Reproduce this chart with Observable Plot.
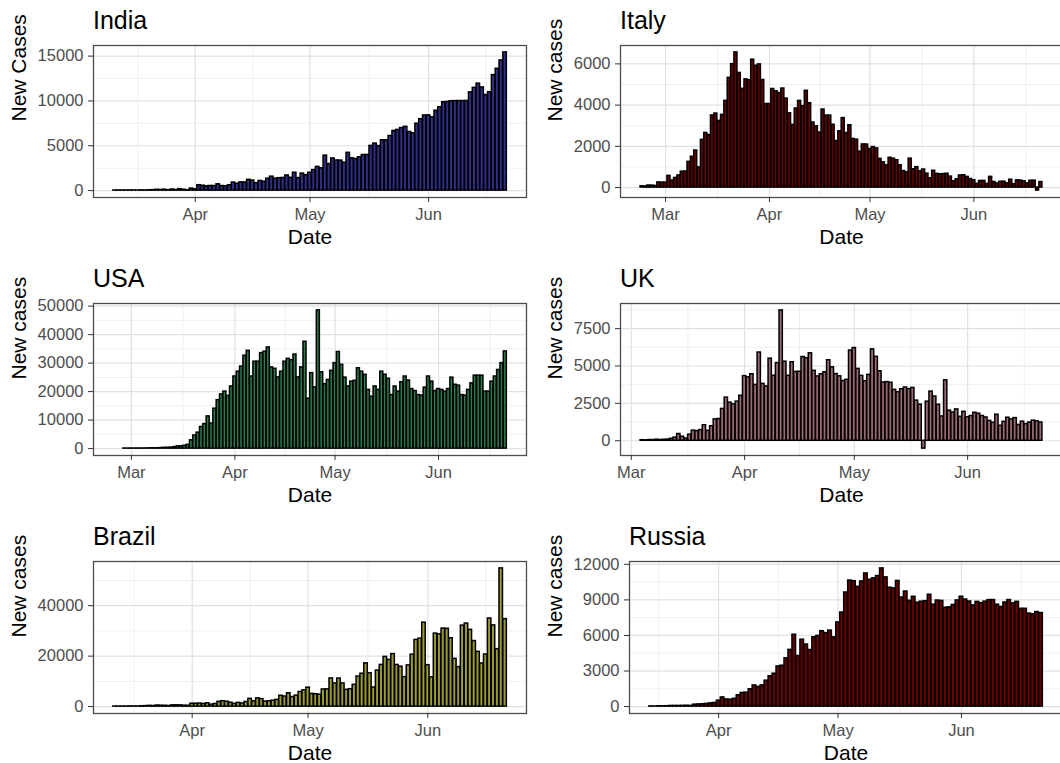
<!DOCTYPE html>
<html>
<head>
<meta charset="utf-8">
<script src="https://cdn.jsdelivr.net/npm/d3@7"></script>
<script src="https://cdn.jsdelivr.net/npm/@observablehq/plot@0.6"></script>
<style>
  html, body { margin: 0; padding: 0; background: #fff; overflow: hidden; }
  #fig { position: relative; width: 1060px; height: 763px; overflow: hidden; background: #fff;
         font-family: "Liberation Sans", Arial, Helvetica, sans-serif; }
  .cell { position: absolute; width: 530px; height: 258px; }
  .title { position: absolute; font-size: 25px; line-height: 25px; color: #000; white-space: nowrap; }
  .cell svg { position: absolute; left: 0; }
</style>
</head>
<body>
<div id="fig"></div>
<script>
// ---------------- data (daily new cases, 2020) ----------------
const monthBreaks = ["2020-03-01", "2020-04-01", "2020-05-01", "2020-06-01"];

// India (Mar 11 - Jun 21)
const indiaStart = "2020-03-11";
const indiaMar = [7, 12, 11, 9, 20, 11, 6, 23, 14, 38, 50, 86, 66, 103, 37, 121, 70, 160, 100, 37, 227];
const indiaApr = [146, 601, 545, 478, 515, 506, 704, 508, 485, 591, 896, 768, 918, 905, 1200, 1118, 826, 1076, 991, 1334, 1553, 1336, 1383, 1409, 1684, 1429, 1990, 1396, 1897, 1718];
const indiaMay = [1993, 2293, 2644, 2487, 3900, 2963, 3587, 3364, 3344, 3113, 4213, 3604, 3525, 3722, 3967, 3970, 4987, 5242, 4970, 5611, 5609, 6088, 6654, 6767, 6977, 7113, 6535, 6387, 7466, 7964, 8380];
const indiaJun = [8392, 8171, 8909, 9304, 9851, 9887, 9971, 9983, 9987, 9985, 9996, 10956, 11458, 11929, 11502, 10667, 10974, 12881, 13586, 14516, 15413];
const indiaTicks = [0, 5000, 10000, 15000];

// Italy (Feb 23 - Jun 21)
const italyStart = "2020-02-23";
const italyFeb = [62, 53, 97, 93, 78, 250, 238];
const italyMar = [240, 566, 342, 466, 587, 769, 778, 1247, 1492, 1797, 977, 2313, 2651, 2547, 3497, 3590, 3233, 3526, 4207, 5322, 5986, 6557, 5560, 4789, 5249, 5210, 6203, 5909, 5974, 5217, 4050];
const italyApr = [4053, 4782, 4668, 4585, 4805, 4316, 3599, 3039, 3836, 4204, 3951, 4694, 4092, 3153, 2972, 2667, 3786, 3493, 3491, 3047, 2256, 2729, 3370, 2646, 3021, 2357, 2324, 1739, 2091, 2086];
const italyMay = [1872, 1965, 1900, 1389, 1221, 1075, 1444, 1401, 1327, 1083, 802, 744, 1402, 888, 992, 789, 875, 675, 451, 813, 665, 642, 652, 669, 531, 300, 397, 584, 593, 516, 416];
const italyJun = [355, 178, 318, 321, 177, 518, 270, 197, 280, 283, 202, 379, 163, 346, 338, 301, 210, 329, 333, -148, 264];
const italyTicks = [0, 2000, 4000, 6000];

// USA (Feb 25 - Jun 21)
const usaStart = "2020-02-25";
const usaFeb = [0, 0, 0, 6, 3];
const usaMar = [7, 14, 20, 22, 34, 74, 105, 95, 121, 200, 271, 287, 351, 511, 777, 823, 1000, 1300, 2900, 4600, 5600, 7600, 8600, 11300, 8800, 14000, 17000, 19000, 20000, 18500, 21800];
const usaApr = [25300, 27000, 28800, 32600, 34300, 25300, 30500, 30500, 33500, 34000, 35500, 28500, 28000, 25000, 27000, 30500, 31500, 31000, 33000, 25000, 28500, 37500, 17500, 26500, 21500, 48500, 26800, 22600, 24100, 27300];
const usaMay = [30000, 33900, 29400, 24900, 21800, 23500, 23800, 28200, 27000, 25900, 20600, 18200, 21800, 20600, 27000, 25900, 24500, 18800, 21800, 20000, 23300, 25300, 23900, 20900, 20200, 18800, 18600, 21400, 25300, 23500, 20200];
const usaJun = [20900, 20600, 20000, 20900, 24900, 22400, 22100, 18800, 18600, 20600, 22900, 25600, 25600, 25600, 20000, 20000, 23500, 25300, 27600, 30000, 34100];
const usaTicks = [0, 10000, 20000, 30000, 40000, 50000];

// UK (Mar 4 - Jun 21)
const ukStart = "2020-03-04";
const ukMar = [36, 29, 48, 43, 67, 48, 62, 75, 130, 210, 450, 270, 152, 407, 676, 643, 714, 1035, 665, 967, 1427, 1452, 2129, 2885, 2546, 2433, 2619, 3009];
const ukApr = [4324, 4244, 4450, 3735, 5903, 3802, 3634, 5491, 4344, 5195, 8719, 5288, 4342, 5252, 4603, 4617, 5599, 5526, 5850, 4676, 4301, 4451, 4583, 5386, 4913, 4463, 4310, 3996, 4076, 6032];
const ukMay = [6201, 4806, 4339, 3985, 4406, 6111, 5614, 4649, 3896, 3923, 3877, 3403, 3242, 3446, 3560, 3450, 3534, 2684, 2412, -525, 2615, 3287, 2959, 2405, 1625, 4043, 2013, 1887, 2095, 1600, 1936];
const ukJun = [1570, 1653, 1871, 1805, 1650, 1557, 1326, 1205, 1741, 1003, 1266, 1541, 1425, 1514, 1056, 1279, 1115, 1218, 1346, 1295, 1221];
const ukTicks = [0, 2500, 5000, 7500];

// Brazil (Mar 12 - Jun 21)
const brazilStart = "2020-03-12";
const brazilMar = [18, 25, 21, 23, 79, 34, 57, 137, 193, 283, 224, 418, 345, 310, 232, 482, 502, 487, 352, 323];
const brazilApr = [1138, 1119, 1208, 1012, 1304, 770, 1031, 1873, 2136, 1922, 1546, 1089, 1465, 1238, 1832, 3058, 2105, 3257, 2976, 1996, 2089, 2336, 2678, 4279, 4007, 5281, 3776, 4346, 5789, 6450];
const brazilMay = [7502, 5015, 4898, 4726, 6794, 6835, 11156, 9162, 11121, 9167, 6638, 6895, 8620, 11923, 13028, 17126, 13220, 7569, 14288, 16517, 19694, 18508, 20803, 16508, 15813, 11687, 16324, 20599, 26417, 26928, 33274];
const brazilJun = [16409, 11598, 28936, 28633, 30925, 30830, 27075, 18921, 15654, 32091, 32913, 30412, 25982, 21704, 17110, 20647, 34918, 32188, 22765, 54771, 34666];
const brazilTicks = [0, 20000, 40000];

// Russia (Mar 15 - Jun 21)
const russiaStart = "2020-03-15";
const russiaMar = [14, 4, 27, 24, 33, 52, 54, 53, 61, 71, 57, 163, 182, 196, 228, 270, 302];
const russiaApr = [501, 771, 601, 582, 658, 954, 1154, 1175, 1459, 1786, 1667, 1786, 2186, 2558, 2774, 3388, 3448, 4070, 4785, 6060, 4268, 5642, 5236, 4774, 5849, 5966, 6361, 6198, 6411, 5841];
const russiaMay = [7099, 7933, 9623, 10633, 10581, 10102, 10559, 11231, 10699, 10817, 11012, 11656, 10899, 10028, 9974, 10598, 9200, 9709, 8926, 9263, 8764, 8849, 8894, 9434, 8599, 8946, 8915, 8338, 8371, 8572, 8952];
const russiaJun = [9268, 9035, 8863, 8536, 8831, 8726, 8855, 8984, 8985, 8595, 8404, 8779, 8987, 8706, 8835, 8246, 8248, 7843, 7790, 7972, 7889];
const russiaTicks = [0, 3000, 6000, 9000, 12000];

// ---------------- panel configuration ----------------
const panels = [
  {title: "India",  ylab: "New Cases", start: indiaStart,  values: [...indiaMar, ...indiaApr, ...indiaMay, ...indiaJun], yTicks: indiaTicks, fill: "#2f2f88", col: 0, row: 0, ml: 93},
  {title: "Italy",  ylab: "New cases", start: italyStart,  values: [...italyFeb, ...italyMar, ...italyApr, ...italyMay, ...italyJun], yTicks: italyTicks, fill: "#6a0000", col: 1, row: 0, ml: 84},
  {title: "USA",    ylab: "New cases", start: usaStart,    values: [...usaFeb, ...usaMar, ...usaApr, ...usaMay, ...usaJun], yTicks: usaTicks, fill: "#2a7d4d", col: 0, row: 1, ml: 93},
  {title: "UK",     ylab: "New cases", start: ukStart,     values: [...ukMar, ...ukApr, ...ukMay, ...ukJun], yTicks: ukTicks, fill: "#9c6a72", col: 1, row: 1, ml: 84},
  {title: "Brazil", ylab: "New cases", start: brazilStart, values: [...brazilMar, ...brazilApr, ...brazilMay, ...brazilJun], yTicks: brazilTicks, fill: "#9c9c36", col: 0, row: 2, ml: 93},
  {title: "Russia", ylab: "New cases", start: russiaStart, values: [...russiaMar, ...russiaApr, ...russiaMay, ...russiaJun], yTicks: russiaTicks, fill: "#6a0000", col: 1, row: 2, ml: 93}
];

const DAY = 864e5;
const COL_X = [0, 536];
const ROW_Y = [0, 258, 516];
const BOX_TOP = 45, BOX_H = 152, MT = 5, MB = 52, MR = 4, W = 530;

function minorBreaks(major, lo, hi) {
  if (major.length < 2) return [];
  const step = major[1] - major[0];
  let b = major.slice();
  if (lo < b[0]) b = [b[0] - step, ...b];
  if (hi > b[b.length - 1]) b = [...b, b[b.length - 1] + step];
  const out = [];
  for (let i = 0; i < b.length - 1; i++) out.push((b[i] + b[i + 1]) / 2);
  return out.filter(v => v > lo && v < hi);
}

const fig = document.getElementById("fig");
const gridMinor = {stroke: "#ececec", strokeOpacity: 1, strokeWidth: 0.8};
const gridMajor = {stroke: "#e1e1e1", strokeOpacity: 1, strokeWidth: 1.2};

for (const p of panels) {
  const t0 = Date.parse(p.start + "T00:00:00Z");
  const rows = p.values.map((v, i) => ({date: new Date(t0 + i * DAY), cases: v}));
  const lo = t0 - 0.45 * DAY;
  const hi = t0 + (p.values.length - 1) * DAY + 0.45 * DAY;
  const xpad = 0.05 * (hi - lo);
  const xLo = lo - xpad, xHi = hi + xpad;
  const yMin = Math.min(0, d3.min(p.values)), yMax = Math.max(0, d3.max(p.values));
  const ypad = 0.05 * (yMax - yMin);
  const yLo = yMin - ypad, yHi = yMax + ypad;

  const majorXnum = monthBreaks.map(s => Date.parse(s + "T00:00:00Z")).filter(t => t >= xLo && t <= xHi);
  const majorX = majorXnum.map(t => new Date(t));
  const minorX = minorBreaks(majorXnum, xLo, xHi).map(t => new Date(t));
  const majorY = p.yTicks.filter(v => v >= yLo && v <= yHi);
  const minorY = minorBreaks(majorY, yLo, yHi);

  const svg = Plot.plot({
    width: W,
    height: MT + BOX_H + MB,
    marginLeft: p.ml, marginRight: MR, marginTop: MT, marginBottom: MB,
    x: {type: "utc", domain: [new Date(xLo), new Date(xHi)], label: null},
    y: {domain: [yLo, yHi], label: null},
    style: {fontFamily: '"Liberation Sans", Arial, Helvetica, sans-serif', background: "transparent", overflow: "visible"},
    marks: [
      Plot.gridX(minorX, gridMinor),
      Plot.gridY(minorY, gridMinor),
      Plot.gridX(majorX, gridMajor),
      Plot.gridY(majorY, gridMajor),
      Plot.rect(rows, {
        x1: d => new Date(+d.date - 0.45 * DAY),
        x2: d => new Date(+d.date + 0.45 * DAY),
        y1: () => 0,
        y2: "cases",
        fill: p.fill, stroke: "#000", strokeWidth: 1.5
      }),
      Plot.frame({stroke: "#4d4d4d", strokeWidth: 1.3}),
      Plot.axisX(majorX, {tickFormat: d3.utcFormat("%b"), tickSize: 5, tickPadding: 6, fontSize: 16.5, color: "#4d4d4d", stroke: "#333", label: null}),
      Plot.axisY(majorY, {tickFormat: d3.format("d"), tickSize: 5, tickPadding: 5, fontSize: 16.5, color: "#4d4d4d", stroke: "#333", label: null}),
      Plot.text(["Date"], {text: d => d, frameAnchor: "bottom", dy: 40, fontSize: 21, fill: "#000", lineAnchor: "middle"}),
      Plot.text([p.ylab], {text: d => d, frameAnchor: "left", dx: 19 - p.ml, rotate: -90, fontSize: 21, fill: "#000", lineAnchor: "middle"})
    ]
  });

  const cell = document.createElement("div");
  cell.className = "cell";
  cell.style.left = COL_X[p.col] + "px";
  cell.style.top = ROW_Y[p.row] + "px";
  cell.style.width = W + "px";

  const title = document.createElement("div");
  title.className = "title";
  title.textContent = p.title;
  title.style.left = p.ml + "px";
  title.style.top = "8px";
  cell.appendChild(title);

  svg.style.top = (BOX_TOP - MT) + "px";
  cell.appendChild(svg);
  fig.appendChild(cell);
}
</script>
</body>
</html>
